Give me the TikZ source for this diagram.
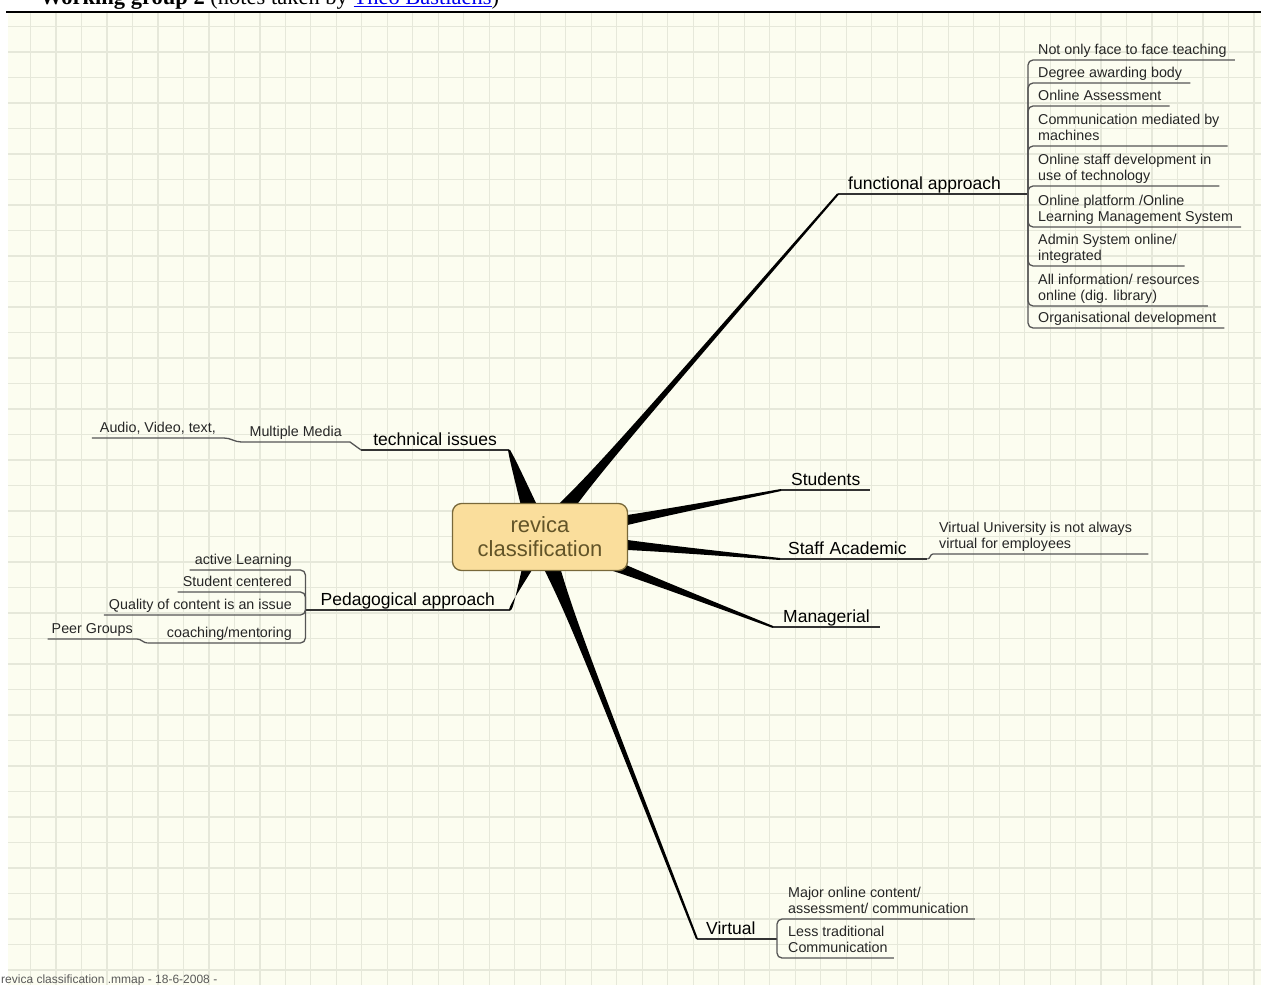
\documentclass[tikz,border=0pt]{standalone}
\usepackage{fontspec}
\setmainfont{Liberation Sans}
\newfontfamily\headfont{Liberation Serif}
\usetikzlibrary{calc}
\definecolor{paper}{RGB}{252,253,240}
\definecolor{gridc}{RGB}{230,232,218}
\definecolor{rootfill}{RGB}{250,222,156}
\definecolor{rootline}{RGB}{120,104,58}
\definecolor{roottext}{RGB}{98,84,40}
\definecolor{linkblue}{RGB}{0,0,238}
\definecolor{subgrey}{RGB}{85,85,85}
\newcommand{\branch}[3][3pt]{%
	\coordinate (bm) at ($(#2)!80pt!(#3)$);
	\fill ($(#2)!11pt!90:(#3)$) .. controls ($(bm)!#1!90:(#3)$) .. ($(#3)!1pt!-90:(#2)$) -- ($(#3)!1pt!90:(#2)$) .. controls ($(bm)!#1!-90:(#3)$) .. ($(#2)!11pt!-90:(#3)$) -- cycle;}

\begin{document}
\begin{tikzpicture}[x=1pt,y=-1pt,
	topic/.style={font=\fontsize{17.5}{20}\selectfont, text=black, inner xsep=10pt, inner ysep=0pt, text depth=4.5pt},
	sub/.style={font=\fontsize{14.3}{16}\selectfont, text=black!85, inner xsep=8pt, inner ysep=0pt, text depth=5pt, align=left},
	subr/.style={sub, align=right, inner xsep=5pt},
	mainline/.style={draw=black!80, line width=1.6pt},
	subline/.style={draw=subgrey, line width=1.3pt},
	fork/.style={subline, rounded corners=5pt},
	rootbox/.style={draw=rootline, line width=1.3pt, fill=rootfill, rounded corners=9pt, minimum width=175pt, minimum height=67pt, align=center, text=roottext, font=\fontsize{22}{24}\selectfont, inner sep=0pt}]
			\useasboundingbox (0,0) rectangle (1261,985);
			\fill[paper] (8,13) rectangle (1261,985);
			\foreach \i in {0,...,48} \draw[gridc, line width=1.2pt] ({30.5+25.49*\i},13) -- ({30.5+25.49*\i},985);
			\foreach \j in {0,...,37} \draw[gridc, line width=1.2pt] (8,{26.5+25.5*\j}) -- (1261,{26.5+25.5*\j});
			\draw[line width=1.5pt] (6,12) -- (1261,12);
			\node[anchor=base west, inner sep=0pt, font=\headfont\fontsize{22.5}{26}\selectfont] (head) at (40,5) {\textbf{Working group 2} (notes taken by \textcolor{linkblue}{\underline{Theo Bastiaens}})};
			\node[anchor=base west, inner sep=0pt, font=\fontsize{12}{14}\selectfont, text=black!65] (foot) at (1,983) {revica classification .mmap - 18-6-2008 -};
			% main topics
			\node[topic, anchor=south west] (fa) at (838,194) {functional approach};
			\coordinate (fafork) at (1028,194);
			\node[topic, anchor=south east, inner xsep=12pt] (ti) at (509,450) {technical issues};
			\node[topic, anchor=south east, inner xsep=15pt] (pa) at (510,610) {Pedagogical approach};
			\node[topic, anchor=south west] (st) at (781,490) {Students};
			\node[topic, anchor=south west, inner xsep=8pt, text width=131pt, align=left] (sa) at (780,559) {Staff Academic};
			\node[topic, anchor=south west] (mg) at (773,627) {Managerial};
			\node[topic, anchor=south west, inner xsep=9pt] (vi) at (697,939) {Virtual};
			\coordinate (vifork) at (777,939);
			% functional approach
			\node[sub, anchor=south west] (f1) at (1030,60) {Not only face to face teaching};
			\node[sub, anchor=south west] (f2) at (1030,83) {Degree awarding body};
			\node[sub, anchor=south west] (f3) at (1030,106) {Online Assessment};
			\node[sub, anchor=south west] (f4) at (1030,146) {Communication mediated by\\machines};
			\node[sub, anchor=south west] (f5) at (1030,186) {Online staff development in\\use of technology};
			\node[sub, anchor=south west] (f6) at (1030,227) {Online platform /Online\\Learning Management System};
			\node[sub, anchor=south west] (f7) at (1030,266) {Admin System online/\\integrated};
			\node[sub, anchor=south west] (f8) at (1030,306) {All information/ resources\\online (dig. library)};
			\node[sub, anchor=south west] (f9) at (1030,328) {Organisational development};
			\draw[mainline] (fa.south west) -- (fafork);
			\foreach \n in {1,...,9} \draw[fork] (fafork) |- (f\n.south east);
			% technical issues
			\node[sub, anchor=south east] (mm) at (350,442) {Multiple Media};
			\node[sub, anchor=south east] (av) at (224,438) {Audio, Video, text,};
			\draw[mainline] (ti.south east) -- (ti.south west);
			\draw[subline] (ti.south west) -- (mm.south east) -- (mm.south west) to[out=180,in=0] (av.south east) -- (av.south west);
			% pedagogical approach
			\node[subr, anchor=south east] (pa1) at (297,570) {active Learning};
			\node[subr, anchor=south east] (pa2) at (297,592) {Student centered};
			\node[subr, anchor=south east] (pa3) at (297,615) {Quality of content is an issue};
			\node[subr, anchor=south east, text width=139pt] (pa4) at (297,643) {coaching/mentoring};
			\node[sub, anchor=south east, inner xsep=4pt] (peer) at (137,639) {Peer Groups};
			\draw[mainline] (pa.south east) -- (pa.south west);
			\foreach \n in {1,...,4} \draw[fork] (pa.south west) |- (pa\n.south west);
			\draw[subline] (pa4.south west) to[out=180,in=0] (peer.south east) -- (peer.south west);
			% staff, students, managerial
			\node[sub, anchor=south west, inner xsep=6pt] (vu) at (933,554) {Virtual University is not always\hspace*{10pt}\\virtual for employees};
			\draw[mainline] (st.south west) -- (st.south east);
			\draw[mainline] (sa.south west) -- (sa.south east);
			\draw[subline] (sa.south east) to[out=0,in=180] (vu.south west) -- (vu.south east);
			\draw[mainline] (mg.south west) -- (mg.south east);
			% virtual
			\node[sub, anchor=south west, inner xsep=6pt] (vi1) at (782,919) {Major online content/\\assessment/ communication};
			\node[sub, anchor=south west, inner xsep=6pt] (vi2) at (782,958) {Less traditional\\Communication};
			\draw[mainline] (vi.south west) -- (vifork);
			\draw[fork] (vifork) |- (vi1.south east);
			\draw[fork] (vifork) |- (vi2.south east);
			% branches
			\coordinate (root) at (540,537);
			\branch{root}{fa.south west}
			\branch{root}{ti.south east}
			\branch{root}{pa.south east}
			\branch[4.5pt]{root}{st.south west}
			\branch[4.5pt]{root}{sa.south west}
			\branch[4.5pt]{root}{mg.south west}
			\branch{root}{vi.south west}
			\node[rootbox] (rc) at (root) {revica\\classification};
			\end{tikzpicture}
\end{document}
